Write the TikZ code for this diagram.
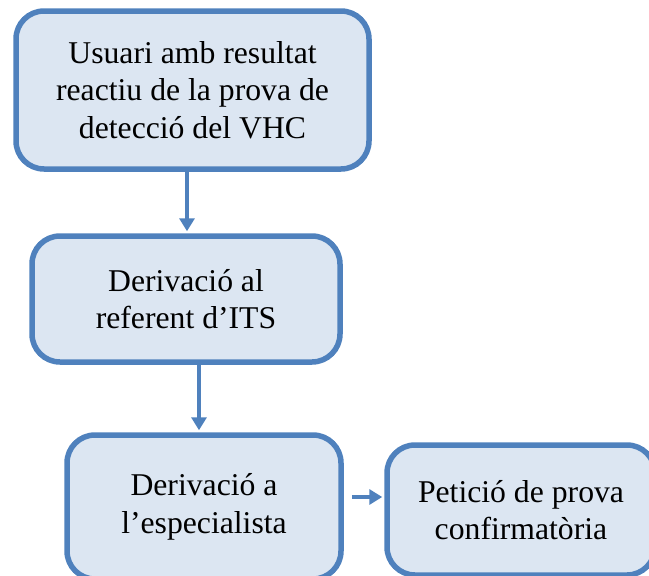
\documentclass[tikz,border=0pt]{standalone}
\usepackage{fontspec}
\setmainfont{Liberation Serif}
\usetikzlibrary{arrows.meta}
\definecolor{bord}{HTML}{4F81BD}
\definecolor{boxfill}{HTML}{DCE6F2}
\tikzset{
  flowbox/.style={draw=bord, fill=boxfill, line width=5.5pt, rounded corners=28pt,
    align=center, inner sep=0pt, font=\fontsize{31.7pt}{37.5pt}\selectfont},
  arr/.style={draw=bord, line width=4.5pt, -{Triangle[length=13pt,width=15pt]}}
}
\begin{document}
\begin{tikzpicture}[x=1pt,y=-1pt]
\useasboundingbox (0,0) rectangle (649,576);
\node[flowbox, minimum width=353pt, minimum height=158pt] (A) at (192.5,90)
  {Usuari amb resultat\\reactiu de la prova de\\detecció del VHC};
\node[flowbox, minimum width=308pt, minimum height=126pt] (B) at (186,299)
  {Derivació al\\referent d’ITS};
\node[flowbox, minimum width=274pt, minimum height=144pt] (C) at (204,507)
  {Derivació a\\l’especialista};
\node[flowbox, minimum width=268pt, minimum height=130pt] (D) at (521,510)
  {Petició de prova\\confirmatòria};
\coordinate (a1) at ([xshift=-5.5pt]A.south);
\coordinate (b1) at ([xshift=13pt]B.south);
\coordinate (c1) at ([xshift=4pt,yshift=10pt]C.east);
\draw[arr, shorten >=2pt] (a1) -- (a1 |- B.north);
\draw[arr, shorten >=2pt] (b1) -- (b1 |- C.north);
\draw[arr, shorten <=4pt, shorten >=2pt] (c1) -- (c1 -| D.west);
\end{tikzpicture}
\end{document}
